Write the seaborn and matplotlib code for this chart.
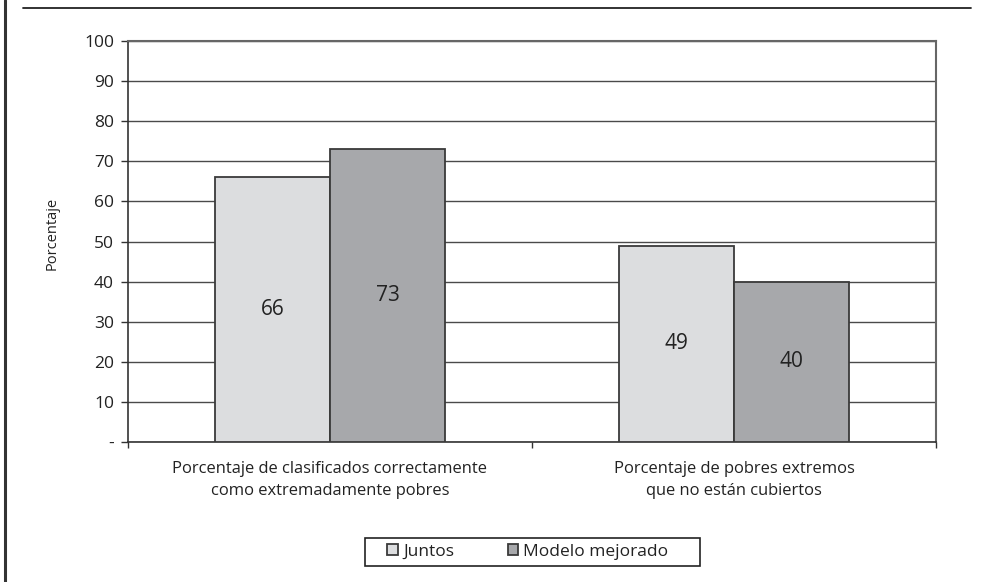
import matplotlib
matplotlib.use("Agg")
import matplotlib.pyplot as plt
from matplotlib.lines import Line2D
from matplotlib.patches import Rectangle
import pandas as pd
import seaborn as sns

categorias = [
    "Porcentaje de clasificados correctamente\ncomo extremadamente pobres",
    "Porcentaje de pobres extremos\nque no están cubiertos",
]
series = ["Juntos", "Modelo mejorado"]
juntos = [66, 49]
modelo_mejorado = [73, 40]
y_ticks = [0, 10, 20, 30, 40, 50, 60, 70, 80, 90, 100]
y_tick_labels = ["-", "10", "20", "30", "40", "50", "60", "70", "80", "90", "100"]

colores = ["#dcdddf", "#a7a8ab"]

sns.set_theme(style="white")
plt.rcParams["font.family"] = ["Open Sans", "DejaVu Sans"]

df = pd.DataFrame({
    "categoria": categorias * 2,
    "serie": [series[0]] * len(categorias) + [series[1]] * len(categorias),
    "valor": juntos + modelo_mejorado,
})

W, H = 990, 582
fig = plt.figure(figsize=(W / 100, H / 100), dpi=100)
ax = fig.add_axes([128 / W, 1 - 442 / H, (936 - 128) / W, (442 - 41) / H])

sns.barplot(data=df, x="categoria", y="valor", hue="serie", hue_order=series,
            order=categorias, palette=colores, width=0.57, gap=0,
            edgecolor="#3a3a3a", linewidth=1.3, saturation=1, ax=ax, zorder=3)

# value labels in the middle of each bar
for cont, vals in zip(ax.containers, [juntos, modelo_mejorado]):
    ax.bar_label(cont, labels=[str(v) for v in vals], label_type="center",
                 fontsize=15, color="#222222")

ax.set_ylim(0, 100)
ax.set_xlim(-0.5, len(categorias) - 0.5)
ax.set_yticks(y_ticks)
ax.set_yticklabels(y_tick_labels)
ax.yaxis.grid(True, color="#4a4a4a", linewidth=1.0, zorder=0)
ax.set_axisbelow(True)

ax.tick_params(axis="y", which="major", left=True, length=5, width=1,
               color="#333333", pad=5, labelsize=12.5, labelcolor="#222222")
ax.tick_params(axis="x", which="major", bottom=False, length=0, pad=14,
               labelsize=11.9, labelcolor="#222222")
ax.set_xticks([-0.5, 0.5, 1.5], minor=True)
ax.tick_params(axis="x", which="minor", bottom=True, length=4, width=1,
               color="#333333")
for lbl in ax.get_xticklabels():
    lbl.set_linespacing(1.45)

ax.set_xlabel("")
ax.set_ylabel("Porcentaje", fontsize=10.5, color="#222222")
ax.yaxis.set_label_coords(-0.085, 0.52)

for side in ["left", "bottom"]:
    ax.spines[side].set_color("#333333")
    ax.spines[side].set_linewidth(1.2)
for side in ["top", "right"]:
    ax.spines[side].set_visible(True)
    ax.spines[side].set_color("#666666")
    ax.spines[side].set_linewidth(1.5)

handles, labels = ax.get_legend_handles_labels()
ax.get_legend().remove()
leg = fig.legend(handles, labels, loc="center",
                 bbox_to_anchor=(528 / W, 1 - 552 / H), ncol=2,
                 frameon=False, fontsize=12.5, handlelength=0.6,
                 handleheight=0.6, handletextpad=0.3, columnspacing=3.1,
                 borderpad=0, borderaxespad=0)
for txt in leg.get_texts():
    txt.set_color("#222222")

# legend box
fig.add_artist(Rectangle((365 / W, 1 - 566 / H), (700 - 365) / W, (566 - 538) / H,
                         transform=fig.transFigure, fill=False,
                         edgecolor="#222222", linewidth=1.2))

# page frame lines
fig.add_artist(Line2D([4.5 / W, 4.5 / W], [0, 1], transform=fig.transFigure,
                      color="#333333", linewidth=2.2))
fig.add_artist(Line2D([23 / W, 971 / W], [1 - 8 / H, 1 - 8 / H],
                      transform=fig.transFigure, color="#222222", linewidth=1.3))

fig.savefig("out.png", dpi=100)
